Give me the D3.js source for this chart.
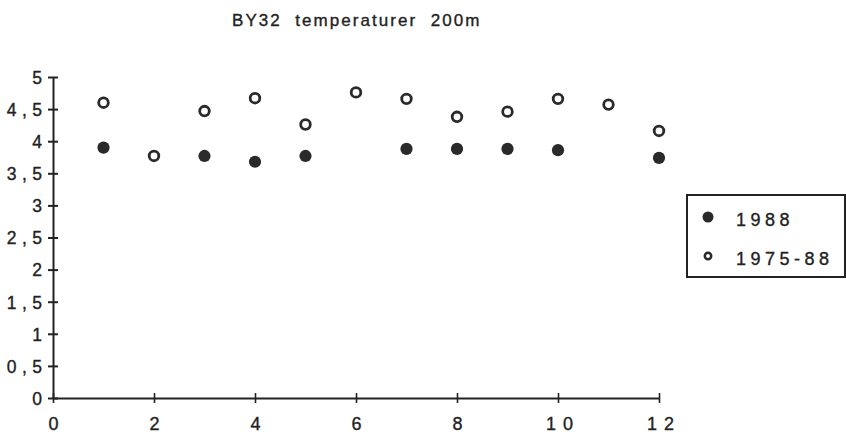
<!DOCTYPE html>
<html><head><meta charset="utf-8">
<script src="https://cdn.jsdelivr.net/npm/d3@7"></script>
<style>body{margin:0;background:#fff}svg{display:block}text{font-family:"Liberation Sans",Arial,sans-serif;fill:#222;stroke:#222;stroke-width:0.35px;white-space:pre}</style>
</head><body>
<script>
const title = "BY32  temperaturer  200m";
const months1988 = [1, 2, 3, 4, 5, 7, 8, 9, 10, 12];
const values1988 = [3.9, null, 3.77, 3.68, 3.77, 3.88, 3.88, 3.88, 3.86, 3.74];
const monthsAvg = [1, 2, 3, 4, 5, 6, 7, 8, 9, 10, 11, 12];
const valuesAvg = [4.6, 3.77, 4.47, 4.67, 4.26, 4.76, 4.66, 4.38, 4.46, 4.66, 4.57, 4.16];
const xTicks = [0, 2, 4, 6, 8, 10, 12];
const yTicks = [0, 0.5, 1, 1.5, 2, 2.5, 3, 3.5, 4, 4.5, 5];
const seriesNames = ["1988", "1975-88"];

const W = 846, H = 435;
const svg = d3.select("body").append("svg").attr("width", W).attr("height", H);
const x = d3.scaleLinear().domain([0, 12]).range([53, 659]);
const y = d3.scaleLinear().domain([0, 5]).range([398, 77]);
const ink = "#222";

svg.append("text").attr("x", 232).attr("y", 26)
  .attr("font-size", 17).style("letter-spacing", "2.05px").text(title);

const fmt = v => String(v).replace(".", ",");

// y axis
const yLs = 5.5;
const ya = svg.append("g").attr("transform", "translate(53,0)")
  .call(d3.axisLeft(y).tickValues(yTicks).tickSize(0).tickPadding(11).tickFormat(fmt));
ya.select(".domain").attr("stroke", ink).attr("stroke-width", 2);
ya.selectAll(".tick text").attr("font-size", 17.5).style("letter-spacing", yLs + "px")
  .attr("fill", ink).attr("dx", yLs).attr("dy", "0.36em");
ya.selectAll(".tick").append("line").attr("x1", -5).attr("x2", 5).attr("stroke", ink).attr("stroke-width", 2);

// x axis
const xLs = 7;
const xa = svg.append("g").attr("transform", "translate(0,398)")
  .call(d3.axisBottom(x).tickValues(xTicks).tickSize(0).tickPadding(19).tickFormat(d => d));
xa.select(".domain").attr("stroke", ink).attr("stroke-width", 2);
xa.selectAll(".tick text").attr("font-size", 18).style("letter-spacing", xLs + "px").attr("fill", ink)
  .attr("dx", d => d >= 10 ? (xLs / 2 + 1) : xLs / 2);
xa.selectAll(".tick").append("line").attr("y1", -5).attr("y2", 5).attr("stroke", ink).attr("stroke-width", 1.6);

// points
const d88 = months1988.map((m, i) => ({m, v: values1988[i]})).filter(d => d.v != null);
const dAvg = monthsAvg.map((m, i) => ({m, v: valuesAvg[i]}));
svg.append("g").selectAll("circle").data(dAvg).join("circle")
  .attr("cx", d => x(d.m)).attr("cy", d => y(d.v)).attr("r", 4.8)
  .attr("fill", "#fff").attr("stroke", "#2a2a2a").attr("stroke-width", 2.8);
svg.append("g").selectAll("circle").data(d88).join("circle")
  .attr("cx", d => x(d.m)).attr("cy", d => y(d.v)).attr("r", 6.1)
  .attr("fill", "#2a2a2a");

// legend
const lg = svg.append("g");
lg.append("rect").attr("x", 687).attr("y", 195).attr("width", 158).attr("height", 82)
  .attr("fill", "none").attr("stroke", ink).attr("stroke-width", 2);
lg.append("circle").attr("cx", 708).attr("cy", 217).attr("r", 5.5).attr("fill", "#2a2a2a");
lg.append("circle").attr("cx", 708).attr("cy", 256).attr("r", 3.2).attr("fill", "#fff")
  .attr("stroke", "#2a2a2a").attr("stroke-width", 2.5);
lg.append("text").attr("x", 736).attr("y", 226).attr("font-size", 18).style("letter-spacing", "4.5px").text(seriesNames[0]);
lg.append("text").attr("x", 736).attr("y", 265).attr("font-size", 18).style("letter-spacing", "4.5px").text(seriesNames[1]);
</script>
</body></html>
